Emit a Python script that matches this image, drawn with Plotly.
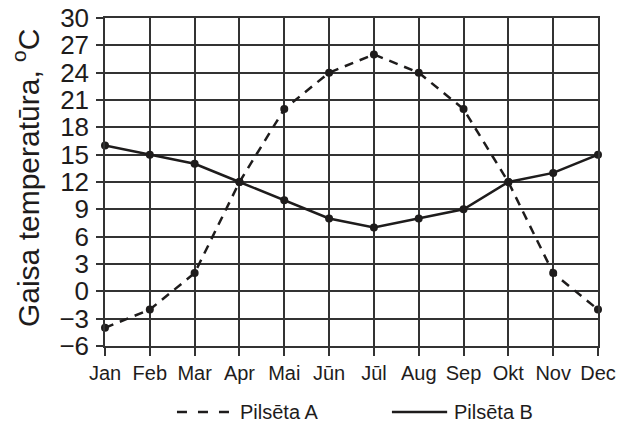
import plotly.graph_objects as go

months = ["Jan", "Feb", "Mar", "Apr", "Mai", "Jūn", "Jūl", "Aug", "Sep", "Okt", "Nov", "Dec"]
city_a = [-4, -2, 2, 12, 20, 24, 26, 24, 20, 12, 2, -2]
city_b = [16, 15, 14, 12, 10, 8, 7, 8, 9, 12, 13, 15]
y_ticks = [-6, -3, 0, 3, 6, 9, 12, 15, 18, 21, 24, 27, 30]
name_a = "Pilsēta A"
name_b = "Pilsēta B"
y_title = "Gaisa temperatūra, <sup>o</sup>C"

x = list(range(len(months)))
ink = "#1e1c1c"
grid = "#333333"
dash_plot = "9px,7px"

fig = go.Figure()
fig.add_trace(go.Scatter(x=x, y=city_a, mode="lines+markers", name=name_a, showlegend=False,
                         line=dict(color=ink, width=2.5, dash=dash_plot),
                         marker=dict(color=ink, size=8), cliponaxis=False))
fig.add_trace(go.Scatter(x=x, y=city_b, mode="lines+markers", name=name_b, showlegend=False,
                         line=dict(color=ink, width=2.5),
                         marker=dict(color=ink, size=8), cliponaxis=False))

fig.update_layout(
    width=622, height=423,
    margin=dict(l=105, r=24, t=18, b=77, autoexpand=False),
    paper_bgcolor="white", plot_bgcolor="white",
    font=dict(family="Liberation Sans, Arial, sans-serif", color=ink),
    showlegend=False,
)

# legend drawn as shapes + text
leg_y = -0.201
fig.add_shape(type="line", xref="paper", yref="paper", x0=0.146, x1=0.256, y0=leg_y, y1=leg_y,
              line=dict(color=ink, width=2.5, dash="10px,11px"))
fig.add_shape(type="line", xref="paper", yref="paper", x0=0.582, x1=0.694, y0=leg_y, y1=leg_y,
              line=dict(color=ink, width=2.5))
fig.add_annotation(text=name_a, xref="paper", yref="paper", x=0.27, y=leg_y,
                   xanchor="left", yanchor="middle", showarrow=False, font=dict(size=20, color=ink))
fig.add_annotation(text=name_b, xref="paper", yref="paper", x=0.704, y=leg_y,
                   xanchor="left", yanchor="middle", showarrow=False, font=dict(size=20, color=ink))

# y-axis title
fig.add_annotation(text=y_title, xref="paper", yref="paper", x=0, xshift=-79, y=0.512,
                   xanchor="center", yanchor="middle", textangle=-90, showarrow=False,
                   font=dict(size=30, color=ink))

fig.update_xaxes(
    range=[0, 11], tickvals=x, ticktext=months, tickfont=dict(size=20),
    showgrid=True, gridcolor=grid, gridwidth=1.5, automargin=False,
    ticks="outside", ticklen=8, tickcolor=grid, tickwidth=1.5, ticklabeloverflow="allow",
    showline=True, linecolor=grid, linewidth=1.5, mirror=True, zeroline=False,
)
fig.update_yaxes(
    range=[-6, 30], tickvals=y_ticks, tickfont=dict(size=26), automargin=False,
    showgrid=True, gridcolor=grid, gridwidth=1.5,
    ticks="outside", ticklen=7, tickcolor=grid, tickwidth=1.5, ticklabeloverflow="allow",
    showline=True, linecolor=grid, linewidth=1.5, mirror=True, zeroline=False,
    ticklabelstandoff=2,
)

fig.write_html(
    "out.html",
    config={"displayModeBar": False},
    post_script="document.body.style.margin='0';document.body.style.overflow='hidden';",
)
